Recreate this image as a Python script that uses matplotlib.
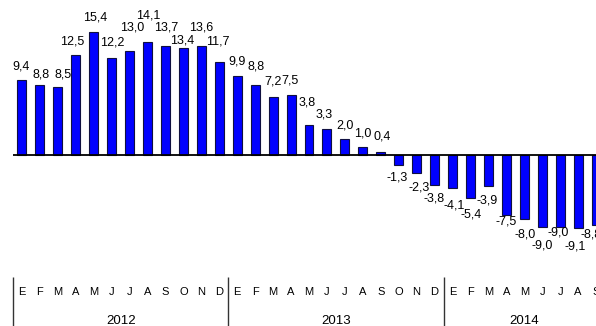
import matplotlib.pyplot as plt
import numpy as np

plt.rcParams['font.family'] = ['Liberation Sans', 'DejaVu Sans']

# datos: variacion anual (%), ene 2012 - sep 2014
months = list("EFMAMJJASOND") * 2 + list("EFMAMJJAS")
years = ['2012', '2013', '2014']
values = [9.4, 8.8, 8.5, 12.5, 15.4, 12.2, 13.0, 14.1, 13.7, 13.4, 13.6, 11.7,
          9.9, 8.8, 7.2, 7.5, 3.8, 3.3, 2.0, 1.0, 0.4, -1.3, -2.3, -3.8,
          -4.1, -5.4, -3.9, -7.5, -8.0, -9.0, -9.0, -9.1, -8.8]

# ajuste de etiquetas (pixeles) para que no se pisen
label_dy = [13, 10, 13, 14, 14, 15, 24, 27, 18, 7, 19, 20,
            14, 18, 16, 15, 22, 14, 14, 14, 15, 12, 14, 13,
            18, 16, 14, 7, 16, 19, 6, 19, 9]
label_dx = [-1, 1, 5, -4, 1, 1, 3, 1, 1, -1, 0, -1,
            0, 1, 0, -1, -2, -3, 0, 0, 1, -2, 3, 0,
            2, 1, -1, 0, 1, 0, -2, -3, -5]

x = np.arange(len(values))

fig = plt.figure(figsize=(5.96, 3.26), dpi=100)
ax = fig.add_axes([0, 49 / 326, 1, 277 / 326])

ax.bar(x, values, width=0.5, color='#0000ff', edgecolor='#101040', linewidth=0.8, zorder=2)
ax.hlines(0, -0.5, len(values), color='black', linewidth=1.3, zorder=3)

for i, v in enumerate(values):
    sign = 1 if v >= 0 else -1
    ax.annotate(f"{v:.1f}".replace('.', ','), (x[i], v),
                xytext=(label_dx[i], sign * label_dy[i]), textcoords='offset pixels',
                ha='center', va='center', fontsize=9, color='black')

ax.set_xlim(-1.225, 31.96)
ax.set_ylim(-15.27, 19.4)
ax.set_yticks([])
for s in ax.spines.values():
    s.set_visible(False)

# meses
ax.set_xticks(x)
ax.set_xticklabels(months, fontsize=8)
ax.tick_params(axis='x', which='major', length=0, pad=7)
# separadores de anio
ax.set_xticks([-0.5, 11.5, 23.5], minor=True)
ax.tick_params(axis='x', which='minor', length=40, width=1, color='#333333', direction='out')

# anios
sec = ax.secondary_xaxis('bottom')
sec.set_xticks([5.5, 17.5, 28])
sec.set_xticklabels(years, fontsize=9.5)
sec.tick_params(length=0, pad=27)
for s in sec.spines.values():
    s.set_visible(False)

fig.savefig('out.png', dpi=100)
